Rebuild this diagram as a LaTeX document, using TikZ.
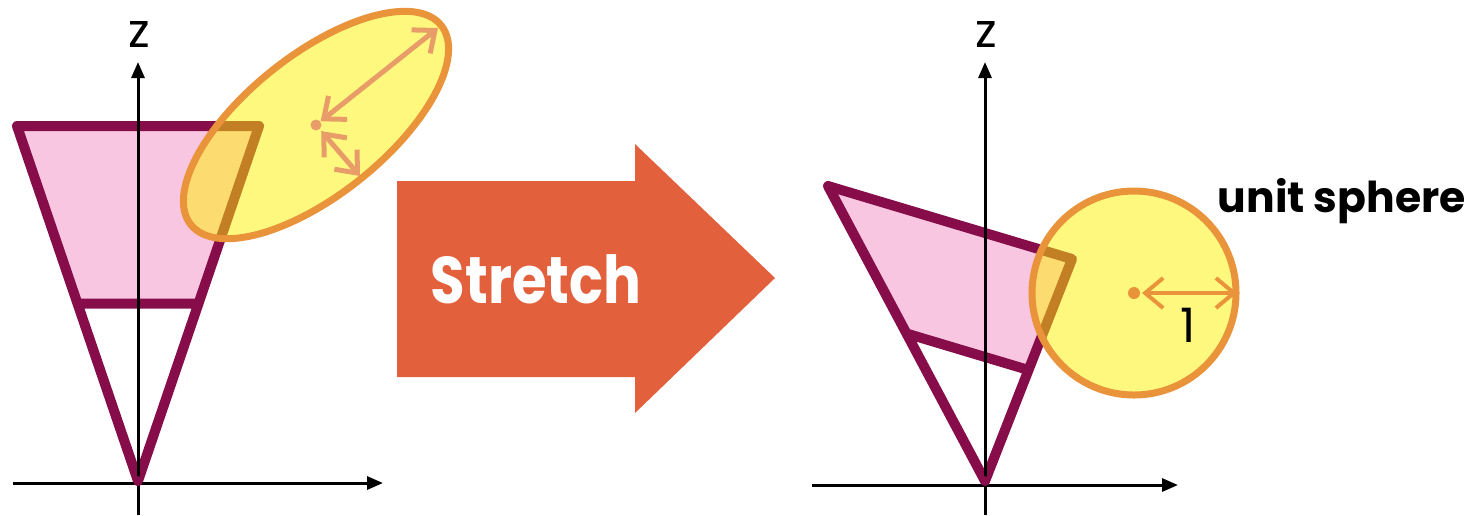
\documentclass[tikz,border=0pt]{standalone}
\usepackage{fontspec}
\setmainfont{Poppins}
\usetikzlibrary{arrows.meta,calc}
\definecolor{frustpurple}{RGB}{134,12,74}
\definecolor{frustpink}{RGB}{249,198,225}
\definecolor{sphereorange}{RGB}{233,147,58}
\definecolor{radorange}{RGB}{232,157,104}
\definecolor{stretchred}{RGB}{227,96,61}
\begin{document}
\begin{tikzpicture}[x=0.1mm, y=-0.1mm,
  axis/.style={line width=0.3mm, -{Triangle[length=1.6mm, width=1.3mm]}},
  frust/.style={draw=frustpurple, line width=1mm, line join=round, line cap=round},
  blob/.style={draw=sphereorange, line width=0.7mm, fill=yellow, fill opacity=0.5},
  radarrow/.style={line width=0.5mm, line cap=round,
    {Straight Barb[length=1.8mm, width=3mm]}-{Straight Barb[length=1.8mm, width=3mm]}},
  lbl/.style={font=\fontsize{13.5}{14}\selectfont, inner sep=0},
]
\useasboundingbox (0,0) rectangle (1472,515);
% left: frustum in view space
\coordinate (lFL) at (17,126);
\coordinate (lFR) at (259,126);
\coordinate (lO) at (138,481);
\coordinate (lNL) at ($(lFL)!0.5!(lO)$);
\coordinate (lNR) at ($(lFR)!0.5!(lO)$);
\fill[frustpink] (lFL) -- (lFR) -- (lNR) -- (lNL) -- cycle;
\draw[frust] (lFL) -- (lFR) -- (lO) -- cycle (lNL) -- (lNR);
\coordinate (lzb) at (138,515);
\coordinate (lzt) at (138,62);
\coordinate (lxl) at (13,483);
\coordinate (lxr) at (383,483);
\draw[axis] (lzb) -- (lzt);
\draw[axis] (lxl) -- (lxr);
\fill[frustpurple] (lO) circle (0.5mm);
\node[lbl, anchor=base] (lz) at (139,47) {z};
% ellipsoid
\coordinate (lc) at (316,125);
\coordinate (lmaj) at (438,28);
\coordinate (lmin) at (360,176);
\draw[blob, rotate around={38.5:(lc)}] (lc) ellipse [x radius=16mm, y radius=7mm];
\draw[radarrow, radorange, shorten <=0.6mm] (lc) -- (lmaj);
\draw[radarrow, radorange, shorten <=0.8mm] (lc) -- (lmin);
\fill[radorange] (lc) circle (0.55mm);
% stretch arrow
\fill[stretchred] (397,181) -- (635,181) -- (635,144) -- (775,278)
  -- (635,413) -- (635,377) -- (397,377) -- cycle;
\node[inner sep=0, anchor=base west, text=white,
  font=\fontsize{18.8}{20}\selectfont\bfseries] (stretch) at (430,303) {\scalebox{0.85}[1]{Stretch}};
% right: stretched frustum
\coordinate (rFL) at (828,186);
\coordinate (rFR) at (1072,259);
\coordinate (rO) at (985,481);
\coordinate (rNL) at ($(rFL)!0.5!(rO)$);
\coordinate (rNR) at ($(rFR)!0.5!(rO)$);
\fill[frustpink] (rFL) -- (rFR) -- (rNR) -- (rNL) -- cycle;
\draw[frust] (rFL) -- (rFR) -- (rO) -- cycle (rNL) -- (rNR);
\coordinate (rzb) at (985,515);
\coordinate (rzt) at (985,62);
\coordinate (rxl) at (812,485);
\coordinate (rxr) at (1178,485);
\draw[axis] (rzb) -- (rzt);
\draw[axis] (rxl) -- (rxr);
\fill[frustpurple] (rO) circle (0.5mm);
\node[lbl, anchor=base] (rz) at (986,47) {z};
% unit sphere
\coordinate (rc) at (1134,293);
\coordinate (rrad) at (1237,293);
\draw[blob] (rc) circle (10.2mm);
\draw[radarrow, sphereorange, line width=0.4mm, shorten <=0.8mm] (rc) -- (rrad);
\fill[sphereorange] (rc) circle (0.6mm);
\node[lbl, anchor=base] (one) at (1188,342) {1};
\node[inner sep=0, anchor=base west,
  font=\fontsize{12.1}{13}\selectfont\bfseries] (unitlbl) at (1217,212) {unit sphere};
\end{tikzpicture}
\end{document}
